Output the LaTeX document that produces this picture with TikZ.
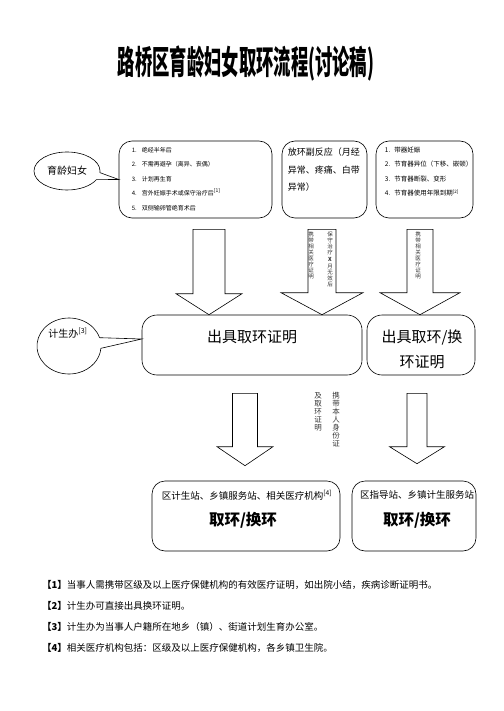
\documentclass[tikz,border=0pt]{standalone}
\usepackage{fontspec}
\setmainfont{Noto Sans CJK SC}
\usetikzlibrary{shapes.callouts,calc}

\tikzset{
  infobox/.style={draw, line width=0.6pt, rounded corners=13pt, inner sep=0pt},
  bubble/.style={ellipse callout, draw, line width=0.6pt, inner sep=0pt, callout pointer arc=22},
  arrowblock/.style={draw, line width=0.6pt, fill=white},
  itemlist/.style={font=\fontsize{#1}{14.5}\selectfont, align=left, inner sep=0pt, anchor=north west},
  vcol/.style={font=\fontsize{5.5}{6}\selectfont, align=center, inner sep=0pt, anchor=north, text=black!80},
  vcolbig/.style={font=\fontsize{7.5}{8}\selectfont, align=center, inner sep=0pt, anchor=north, text=black!80},
  footnote/.style={font=\fontsize{9.5}{9.5}\selectfont, anchor=west, inner sep=0pt}
}

\begin{document}
\begin{tikzpicture}[x=1pt, y=-1pt]
    \newcommand{\blockarrow}[8]{% from, to, centre x, half shaft, half head, head length, top gap, tip gap
      \draw[arrowblock] let \p1=(#1.south), \p2=(#2.north) in
        (#3pt-#4pt,\y1-#7pt) -- (#3pt+#4pt,\y1-#7pt) -- (#3pt+#4pt,\y2+#8pt+#6pt)
        -- (#3pt+#5pt,\y2+#8pt+#6pt) -- (#3pt,\y2+#8pt) -- (#3pt-#5pt,\y2+#8pt+#6pt)
        -- (#3pt-#4pt,\y2+#8pt+#6pt) -- cycle;}
    \useasboundingbox (0,0) rectangle (503,711);

    % title
    \node[font=\fontsize{33}{36}\selectfont\bfseries, xscale=0.525] (title) at (246,63) {路桥区育龄妇女取环流程(讨论稿)};

    % first row
    \node[infobox, minimum width=153, minimum height=77] (reasons) at (195.5,179.5) {};
    \node[itemlist=6] (reasons-list) at ([xshift=13pt,yshift=-6pt]reasons.north west)
      {1.\hspace{5pt}绝经半年后\\2.\hspace{5pt}不需再避孕（离异、丧偶）\\3.\hspace{5pt}计划再生育\\
       4.\hspace{5pt}宫外妊娠手术或保守治疗后\textsuperscript{[1]}\\5.\hspace{5pt}双侧输卵管绝育术后};
    \node[bubble, minimum width=66, minimum height=38, font=\fontsize{10}{10}\selectfont,
      callout absolute pointer={(reasons.west)}] (women) at (67,171) {育龄妇女};

    \node[infobox, minimum width=85, minimum height=77] (sidefx) at (324.5,179.5) {};
    \node[anchor=north west, font=\fontsize{9}{17.5}\selectfont, align=left, inner sep=0pt] (sidefx-text)
      at ([xshift=6pt,yshift=-7pt]sidefx.north west) {放环副反应（月经\\异常、疼痛、白带\\异常）};

    \node[infobox, minimum width=97, minimum height=77] (device) at (424.5,179.5) {};
    \node[itemlist=6.5] (device-list) at ([xshift=9pt,yshift=-6pt]device.north west)
      {1.\hspace{4pt}带器妊娠\\2.\hspace{4pt}节育器异位（下移、嵌顿）\\3.\hspace{4pt}节育器断裂、变形\\
       4.\hspace{4pt}节育器使用年限到期\textsuperscript{[2]}};

    % second row
    \node[infobox, rounded corners=15pt, minimum width=220, minimum height=60] (cert) at (252,345) {};
    \node[font=\fontsize{15}{15}\selectfont] (cert-text) at (252,337) {出具取环证明};
    \node[infobox, rounded corners=15pt, minimum width=108, minimum height=60] (certx) at (421,345) {};
    \node[font=\fontsize{15}{25}\selectfont, align=center] (certx-text) at (422,349.5) {出具取环/换\\环证明};
    \node[bubble, minimum width=64, minimum height=56, callout absolute pointer={([yshift=6pt]cert.west)}] (office) at (69,346) {};
    \node[font=\fontsize{10}{10}\selectfont] (office-text) at (68,333) {计生办\textsuperscript{[3]}};

    % arrows into second row
    \blockarrow{reasons}{cert}{209}{16}{33}{21}{11}{0}
    \blockarrow{sidefx}{cert}{322}{14}{41}{22}{11}{0}
    \blockarrow{device}{certx}{420}{13}{40}{22}{11}{0}
    \node[vcol] (b-note1) at (311,232) {携\\带\\相\\关\\医\\疗\\证\\明};
    \node[vcol] (b-note2) at (330,232) {保\\守\\治\\疗\\[1pt]\textbf{X}\\[1pt]月\\无\\效\\后};
    \node[vcol] (c-note) at (418,232) {携\\带\\相\\关\\医\\疗\\证\\明};

    % third row
    \node[infobox, minimum width=188, minimum height=70] (clinic) at (246,516) {};
    \node[font=\fontsize{9.5}{9.5}\selectfont] (clinic-head) at (247,495) {区计生站、乡镇服务站、相关医疗机构\textsuperscript{[4]}};
    \node[font=\fontsize{15.5}{15.5}\selectfont\bfseries] (clinic-main) at (243,520) {取环/换环};
    \node[infobox, minimum width=124, minimum height=70] (station) at (414,516) {};
    \node[font=\fontsize{9.5}{9.5}\selectfont] (station-head) at (417,495) {区指导站、乡镇计生服务站};
    \node[font=\fontsize{15.5}{15.5}\selectfont\bfseries] (station-main) at (417,520) {取环/换环};

    % arrows into third row
    \blockarrow{cert}{clinic}{245}{12.5}{28}{19}{18}{15}
    \blockarrow{certx}{station}{417}{10}{27.5}{17}{18}{17}
    \node[vcolbig] (d-note1) at (336,392) {携\\带\\本\\人\\身\\份\\证};
    \node[vcolbig] (d-note2) at (318,392) {及\\取\\环\\证\\明};

    % notes
    \node[footnote] (note1) at (42,585) {\textbf{【1】}当事人需携带区级及以上医疗保健机构的有效医疗证明，如出院小结，疾病诊断证明书。};
    \node[footnote] (note2) at (42,606) {\textbf{【2】}计生办可直接出具换环证明。};
    \node[footnote] (note3) at (42,627) {\textbf{【3】}计生办为当事人户籍所在地乡（镇）、街道计划生育办公室。};
    \node[footnote] (note4) at (42,648) {\textbf{【4】}相关医疗机构包括：区级及以上医疗保健机构，各乡镇卫生院。};
\end{tikzpicture}
\end{document}
